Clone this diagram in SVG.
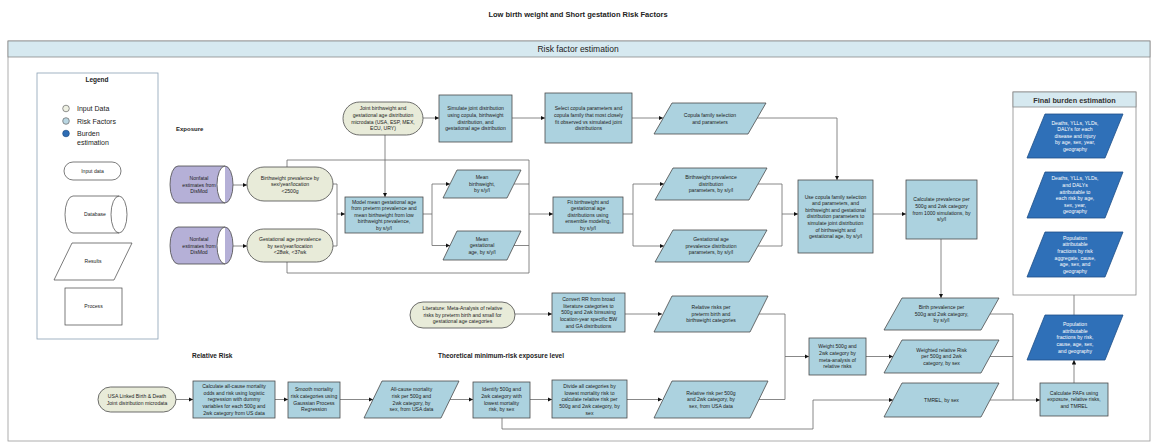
<svg xmlns="http://www.w3.org/2000/svg" width="1156" height="445" viewBox="0 0 1156 445">
<defs>
<marker id="ah" viewBox="0 0 10 10" refX="10" refY="5" markerWidth="4.5" markerHeight="4.5" orient="auto" markerUnits="userSpaceOnUse"><path d="M0,0 L10,5 L0,10 Z" fill="#111"/></marker>
<style>
text{font-family:"Liberation Sans",Arial,sans-serif;fill:#222}
.t{font-size:5.1px;text-anchor:middle}
.w{fill:#fff}
.p{fill:#acd2df;stroke:#4a4a4a;stroke-width:0.8}
.pill{fill:#e8ebd9;stroke:#4a4a4a;stroke-width:0.8}
.cyl{fill:#b5b0d7;stroke:#4a4a4a;stroke-width:0.8}
.db{fill:#2f70b8;stroke:#1e4f88;stroke-width:0.8}
.lg{fill:#fff;stroke:#444;stroke-width:0.7}
.c{fill:none;stroke:#6a6a6a;stroke-width:0.8}
.a{marker-end:url(#ah)}
.h{font-weight:bold}
</style>
</defs>
<rect width="1156" height="445" fill="#fff"/>
<text x="578" y="17" class="h" style="font-size:7.5px;text-anchor:middle">Low birth weight and Short gestation Risk Factors</text>
<g id="frame">
<rect x="8" y="41" width="1142" height="400" fill="none" stroke="#9a9a9a" stroke-width="0.8"/>
<rect x="8" y="41" width="1142" height="16" fill="#d6e9f0" stroke="#8a8a8a" stroke-width="0.8"/>
<text x="578" y="52" style="font-size:8.5px;text-anchor:middle">Risk factor estimation</text>
<text x="176" y="131" class="h" style="font-size:6px">Exposure</text>
<text x="192" y="358" class="h" style="font-size:6.5px">Relative Risk</text>
<text x="501" y="358" class="h" style="font-size:6.5px;text-anchor:middle">Theoretical minimum-risk exposure level</text>
</g>
<g id="legend">
<rect x="37" y="73" width="121" height="266" fill="#fff" stroke="#8aa0b5" stroke-width="0.8"/>
<text x="97" y="82" class="h" style="font-size:6.5px;text-anchor:middle">Legend</text>
<circle cx="66" cy="108.5" r="3.3" fill="#eef0e2" stroke="#666" stroke-width="0.7"/>
<text x="77" y="111" style="font-size:7px">Input Data</text>
<circle cx="66" cy="121" r="3.3" fill="#b9d6e2" stroke="#666" stroke-width="0.7"/>
<text x="77" y="123.5" style="font-size:7px">Risk Factors</text>
<circle cx="66" cy="133.5" r="3.3" fill="#2e6db4" stroke="#1e4f88" stroke-width="0.7"/>
<text x="77" y="136" style="font-size:7px">Burden</text>
<text x="77" y="145" style="font-size:7px">estimation</text>
<rect x="64" y="162" width="57" height="18" rx="9" class="lg"/>
<text x="92.5" y="172.8" class="t">Input data</text>
<path d="M73,196 H119 A8,18.5 0 0 1 119,233 H73 A8,18.5 0 0 1 73,196 Z M119,196 A8,18.5 0 0 0 119,233" class="lg"/>
<text x="95" y="216" class="t">Database</text>
<polygon points="72,243 132,243 114,280 54,280" class="lg"/>
<text x="93" y="263" class="t">Results</text>
<rect x="65" y="288" width="57" height="37" class="lg"/>
<text x="93.5" y="307.5" class="t">Process</text>
</g>
<g id="connectors">
<path class="c a" d="M233,185 H247"/>
<path class="c a" d="M233,246 H247"/>
<path class="c a" d="M333,184 H337 V214 H345"/>
<path class="c" d="M333,246 H337 V214"/>
<path class="c a" d="M385,135 V197"/>
<path class="c" d="M287,167 V160 H529 V273 H287 V262"/>
<path class="c a" d="M423,118 H439"/>
<path class="c a" d="M512,118 H545"/>
<path class="c a" d="M632,118 H663"/>
<path class="c a" d="M757,118 H837 V180"/>
<path class="c a" d="M423,214 H432 V184 H450"/>
<path class="c a" d="M432,214 V245.5 H450"/>
<path class="c" d="M514,184 H529"/>
<path class="c" d="M514,245.5 H529"/>
<path class="c a" d="M529,214 H553"/>
<path class="c a" d="M623,214 H633 V184 H664"/>
<path class="c a" d="M633,214 V246 H664"/>
<path class="c" d="M758,184 H782 V246 H758"/>
<path class="c a" d="M782,214 H798"/>
<path class="c a" d="M873,214 H906"/>
<path class="c a" d="M941,239 V298"/>
<path class="c" d="M990,314 H1013 V400"/>
<path class="c" d="M990,356.5 H1013"/>
<path class="c a" d="M990,400 H1040"/>
<path class="c a" d="M1074,383 V360"/>
<path class="c a" d="M1074,315 V277"/>
<path class="c a" d="M1074,232 V218"/>
<path class="c a" d="M1074,158 V172"/>
<path class="c a" d="M515,314 H552"/>
<path class="c a" d="M625,314 H662"/>
<path class="c a" d="M758,314 H785 V356.5 H809"/>
<path class="c" d="M758,399.5 H785 V356.5"/>
<path class="c a" d="M866,356.5 H893"/>
<path class="c a" d="M176,399.5 H193"/>
<path class="c a" d="M275,399.5 H288"/>
<path class="c a" d="M340,399.5 H373"/>
<path class="c a" d="M450,399.5 H473"/>
<path class="c a" d="M530,399.5 H552"/>
<path class="c a" d="M627,399.5 H662"/>
<path class="c a" d="M502,418 V429 H813 V400 H893"/>
</g>
<g id="dismod1">
<path d="M178,166 H225 A8,18.5 0 0 1 225,203 H178 A8,18.5 0 0 1 178,166 Z M225,166 A8,18.5 0 0 0 225,203" class="cyl"/>
<text class="t" x="199" y="180"><tspan x="199">Nonfatal</tspan><tspan x="199" dy="6.6">estimates from</tspan><tspan x="199" dy="6.6">DisMod</tspan></text>
</g>
<g id="dismod2">
<path d="M178,227 H225 A8,18.5 0 0 1 225,264 H178 A8,18.5 0 0 1 178,227 Z M225,227 A8,18.5 0 0 0 225,264" class="cyl"/>
<text class="t" x="199" y="241"><tspan x="199">Nonfatal</tspan><tspan x="199" dy="6.6">estimates from</tspan><tspan x="199" dy="6.6">DisMod</tspan></text>
</g>
<g id="bwprev">
<rect x="247" y="167" width="86" height="34" rx="17" class="pill"/>
<text class="t" x="290" y="179.6"><tspan x="290">Birthweight prevalence by</tspan><tspan x="290" dy="6.6">sex/year/location</tspan><tspan x="290" dy="6.6">&lt;2500g</tspan></text>
</g>
<g id="gaprev">
<rect x="247" y="229" width="86" height="33" rx="16.5" class="pill"/>
<text class="t" x="290" y="241"><tspan x="290">Gestational age prevalence</tspan><tspan x="290" dy="6.6">by sex/year/location</tspan><tspan x="290" dy="6.6">&lt;28wk, &lt;37wk</tspan></text>
</g>
<g id="joint">
<rect x="343" y="102" width="80" height="33" rx="16.5" class="pill"/>
<text class="t" x="383" y="110.4"><tspan x="383">Joint birthweight and</tspan><tspan x="383" dy="6.6">gestational age distribution</tspan><tspan x="383" dy="6.6">microdata (USA, ESP, MEX,</tspan><tspan x="383" dy="6.6">ECU, URY)</tspan></text>
</g>
<g id="simulate">
<rect x="439" y="95" width="73" height="47" class="p"/>
<text class="t" x="475.5" y="110.4"><tspan x="475.5">Simulate joint distribution</tspan><tspan x="475.5" dy="6.6">using copula, birthweight</tspan><tspan x="475.5" dy="6.6">distribution, and</tspan><tspan x="475.5" dy="6.6">gestational age distribution</tspan></text>
</g>
<g id="select">
<rect x="545" y="93" width="87" height="50" class="p"/>
<text class="t" x="588.5" y="110.4"><tspan x="588.5">Select copula parameters and</tspan><tspan x="588.5" dy="6.6">copula family that most closely</tspan><tspan x="588.5" dy="6.6">fit observed vs simulated joint</tspan><tspan x="588.5" dy="6.6">distributions</tspan></text>
</g>
<g id="copula">
<polygon points="672,103 766,103 748,134 654,134" class="p"/>
<text class="t" x="710" y="117"><tspan x="710">Copula family selection</tspan><tspan x="710" dy="6.6">and parameters</tspan></text>
</g>
<g id="model">
<rect x="345" y="197" width="78" height="36" class="p"/>
<text class="t" x="384" y="203.6"><tspan x="384">Model mean gestational age</tspan><tspan x="384" dy="6.6">from preterm prevalence and</tspan><tspan x="384" dy="6.6">mean birthweight from low</tspan><tspan x="384" dy="6.6">birthweight prevalence,</tspan><tspan x="384" dy="6.6">by s/y/l</tspan></text>
</g>
<g id="meanbw">
<polygon points="457,170 521,170 507,198 443,198" class="p"/>
<text class="t" x="482" y="179.2"><tspan x="482">Mean</tspan><tspan x="482" dy="6.6">birthweight,</tspan><tspan x="482" dy="6.6">by s/y/l</tspan></text>
</g>
<g id="meanga">
<polygon points="457,231 521,231 507,260 443,260" class="p"/>
<text class="t" x="482" y="240.7"><tspan x="482">Mean</tspan><tspan x="482" dy="6.6">gestational</tspan><tspan x="482" dy="6.6">age, by s/y/l</tspan></text>
</g>
<g id="fit">
<rect x="553" y="197" width="70" height="36" class="p"/>
<text class="t" x="588" y="203.6"><tspan x="588">Fit birthweight and</tspan><tspan x="588" dy="6.6">gestational age</tspan><tspan x="588" dy="6.6">distributions using</tspan><tspan x="588" dy="6.6">ensemble modeling,</tspan><tspan x="588" dy="6.6">by s/y/l</tspan></text>
</g>
<g id="bwparam">
<polygon points="673,168 767,168 749,200 655,200" class="p"/>
<text class="t" x="711" y="179.2"><tspan x="711">Birthweight prevalence</tspan><tspan x="711" dy="6.6">distribution</tspan><tspan x="711" dy="6.6">parameters, by s/y/l</tspan></text>
</g>
<g id="gaparam">
<polygon points="673,230 767,230 749,262 655,262" class="p"/>
<text class="t" x="711" y="241.2"><tspan x="711">Gestational age</tspan><tspan x="711" dy="6.6">prevalence distribution</tspan><tspan x="711" dy="6.6">parameters, by s/y/l</tspan></text>
</g>
<g id="use">
<rect x="798" y="180" width="75" height="73" class="p"/>
<text class="t" x="835.5" y="198.5"><tspan x="835.5">Use copula family selection</tspan><tspan x="835.5" dy="6.6">and parameters, and</tspan><tspan x="835.5" dy="6.6">birthweight and gestational</tspan><tspan x="835.5" dy="6.6">distribution parameters to</tspan><tspan x="835.5" dy="6.6">simulate joint distribution</tspan><tspan x="835.5" dy="6.6">of birthweight and</tspan><tspan x="835.5" dy="6.6">gestational age, by s/y/l</tspan></text>
</g>
<g id="calcprev">
<rect x="906" y="180" width="71" height="59" class="p"/>
<text class="t" x="941.5" y="201.4"><tspan x="941.5">Calculate prevalence per</tspan><tspan x="941.5" dy="6.6">500g and 2wk category</tspan><tspan x="941.5" dy="6.6">from 1000 simulations, by</tspan><tspan x="941.5" dy="6.6">s/y/l</tspan></text>
</g>
<g id="birthprev">
<polygon points="902,298 999,298 981,330 884,330" class="p"/>
<text class="t" x="941.5" y="309.2"><tspan x="941.5">Birth prevalence per</tspan><tspan x="941.5" dy="6.6">500g and 2wk category,</tspan><tspan x="941.5" dy="6.6">by s/y/l</tspan></text>
</g>
<g id="weightedrr">
<polygon points="902,340 999,340 981,373 884,373" class="p"/>
<text class="t" x="941.5" y="351.7"><tspan x="941.5">Weighted relative Risk</tspan><tspan x="941.5" dy="6.6">per 500g and 2wk</tspan><tspan x="941.5" dy="6.6">category, by sex</tspan></text>
</g>
<g id="tmrel">
<polygon points="902,383 999,383 981,417 884,417" class="p"/>
<text class="t" x="941.5" y="401.8">TMREL, by sex</text>
</g>
<g id="pafcalc">
<rect x="1040" y="383" width="68" height="33" class="p"/>
<text class="t" x="1074" y="394.7"><tspan x="1074">Calculate PAFs using</tspan><tspan x="1074" dy="6.6">exposure, relative risks,</tspan><tspan x="1074" dy="6.6">and TMREL</tspan></text>
</g>
<g id="paf">
<polygon points="1045,315 1123,315 1105,360 1027,360" class="db"/>
<text class="t w" x="1075" y="326.1"><tspan x="1075">Population</tspan><tspan x="1075" dy="6.6">attributable</tspan><tspan x="1075" dy="6.6">fractions by risk,</tspan><tspan x="1075" dy="6.6">cause, age, sex,</tspan><tspan x="1075" dy="6.6">and geography</tspan></text>
</g>
<g id="finalburden">
<rect x="1013" y="92" width="123" height="203" fill="#fff" stroke="#8a8a8a" stroke-width="0.8"/>
<rect x="1013" y="92" width="123" height="15" fill="#d6e9f0" stroke="#8a8a8a" stroke-width="0.8"/>
<text x="1074.5" y="102.5" class="h" style="font-size:7.3px;text-anchor:middle;fill:#333">Final burden estimation</text>
</g>
<g id="deaths">
<polygon points="1045,114 1123,114 1105,158 1027,158" class="db"/>
<text class="t w" x="1075" y="124.6"><tspan x="1075">Deaths, YLLs, YLDs,</tspan><tspan x="1075" dy="6.6">DALYs for each</tspan><tspan x="1075" dy="6.6">disease and injury</tspan><tspan x="1075" dy="6.6">by age, sex, year,</tspan><tspan x="1075" dy="6.6">geography</tspan></text>
</g>
<g id="deathsattrib">
<polygon points="1045,172 1123,172 1105,218 1027,218" class="db"/>
<text class="t w" x="1075" y="180.3"><tspan x="1075">Deaths, YLLs, YLDs,</tspan><tspan x="1075" dy="6.6">and DALYs</tspan><tspan x="1075" dy="6.6">attributable to</tspan><tspan x="1075" dy="6.6">each risk by age,</tspan><tspan x="1075" dy="6.6">sex, year,</tspan><tspan x="1075" dy="6.6">geography</tspan></text>
</g>
<g id="pafagg">
<polygon points="1045,232 1123,232 1105,277 1027,277" class="db"/>
<text class="t w" x="1075" y="239.8"><tspan x="1075">Population</tspan><tspan x="1075" dy="6.6">attributable</tspan><tspan x="1075" dy="6.6">fractions by risk</tspan><tspan x="1075" dy="6.6">aggregate, cause,</tspan><tspan x="1075" dy="6.6">age, sex, and</tspan><tspan x="1075" dy="6.6">geography</tspan></text>
</g>
<g id="literature">
<rect x="410" y="302" width="105" height="26" rx="13" class="pill"/>
<text class="t" x="462.5" y="310.2"><tspan x="462.5">Literature: Meta-Analysis of relative</tspan><tspan x="462.5" dy="6.6">risks by preterm birth and small for</tspan><tspan x="462.5" dy="6.6">gestational age categories</tspan></text>
</g>
<g id="convert">
<rect x="552" y="293" width="73" height="39" class="p"/>
<text class="t" x="588.5" y="301.1"><tspan x="588.5">Convert RR from broad</tspan><tspan x="588.5" dy="6.6">literature categories to</tspan><tspan x="588.5" dy="6.6">500g and 2wk binsusing</tspan><tspan x="588.5" dy="6.6">location-year specific BW</tspan><tspan x="588.5" dy="6.6">and GA distributions</tspan></text>
</g>
<g id="relrisks">
<polygon points="672,296 768,296 750,332 654,332" class="p"/>
<text class="t" x="711" y="309.2"><tspan x="711">Relative risks per</tspan><tspan x="711" dy="6.6">preterm birth and</tspan><tspan x="711" dy="6.6">birthweight categories</tspan></text>
</g>
<g id="weight">
<rect x="809" y="338" width="57" height="37" class="p"/>
<text class="t" x="837.5" y="348.4"><tspan x="837.5">Weight 500g and</tspan><tspan x="837.5" dy="6.6">2wk category by</tspan><tspan x="837.5" dy="6.6">meta-analysis of</tspan><tspan x="837.5" dy="6.6">relative risks</tspan></text>
</g>
<g id="usa">
<rect x="98" y="387" width="78" height="25" rx="12.5" class="pill"/>
<text class="t" x="137" y="398"><tspan x="137">USA Linked Birth &amp; Death</tspan><tspan x="137" dy="6.6">Joint distribution microdata</tspan></text>
</g>
<g id="calcall">
<rect x="193" y="381" width="82" height="37" class="p"/>
<text class="t" x="234" y="388.1"><tspan x="234">Calculate all-cause mortality</tspan><tspan x="234" dy="6.6">odds and risk using logistic</tspan><tspan x="234" dy="6.6">regression with dummy</tspan><tspan x="234" dy="6.6">variables for each 500g and</tspan><tspan x="234" dy="6.6">2wk category from US data</tspan></text>
</g>
<g id="smooth">
<rect x="288" y="382" width="52" height="36" class="p"/>
<text class="t" x="314" y="391.4"><tspan x="314">Smooth mortality</tspan><tspan x="314" dy="6.6">risk categories using</tspan><tspan x="314" dy="6.6">Gaussian Process</tspan><tspan x="314" dy="6.6">Regression</tspan></text>
</g>
<g id="allcause">
<polygon points="382,381 459,381 441,418 364,418" class="p"/>
<text class="t" x="411.5" y="391.4"><tspan x="411.5">All-cause mortality</tspan><tspan x="411.5" dy="6.6">risk per 500g and</tspan><tspan x="411.5" dy="6.6">2wk category, by</tspan><tspan x="411.5" dy="6.6">sex, from USA data</tspan></text>
</g>
<g id="identify">
<rect x="473" y="382" width="57" height="36" class="p"/>
<text class="t" x="501.5" y="391.4"><tspan x="501.5">Identify 500g and</tspan><tspan x="501.5" dy="6.6">2wk category with</tspan><tspan x="501.5" dy="6.6">lowest mortality</tspan><tspan x="501.5" dy="6.6">risk, by sex</tspan></text>
</g>
<g id="divide">
<rect x="552" y="380" width="75" height="38" class="p"/>
<text class="t" x="589.5" y="388.1"><tspan x="589.5">Divide all categories by</tspan><tspan x="589.5" dy="6.6">lowest mortality risk to</tspan><tspan x="589.5" dy="6.6">calculate relative risk per</tspan><tspan x="589.5" dy="6.6">500g and 2wk category, by</tspan><tspan x="589.5" dy="6.6">sex</tspan></text>
</g>
<g id="rr500">
<polygon points="672,381 768,381 750,418 654,418" class="p"/>
<text class="t" x="711" y="394.7"><tspan x="711">Relative risk per 500g</tspan><tspan x="711" dy="6.6">and 2wk category, by</tspan><tspan x="711" dy="6.6">sex, from USA data</tspan></text>
</g>
</svg>
